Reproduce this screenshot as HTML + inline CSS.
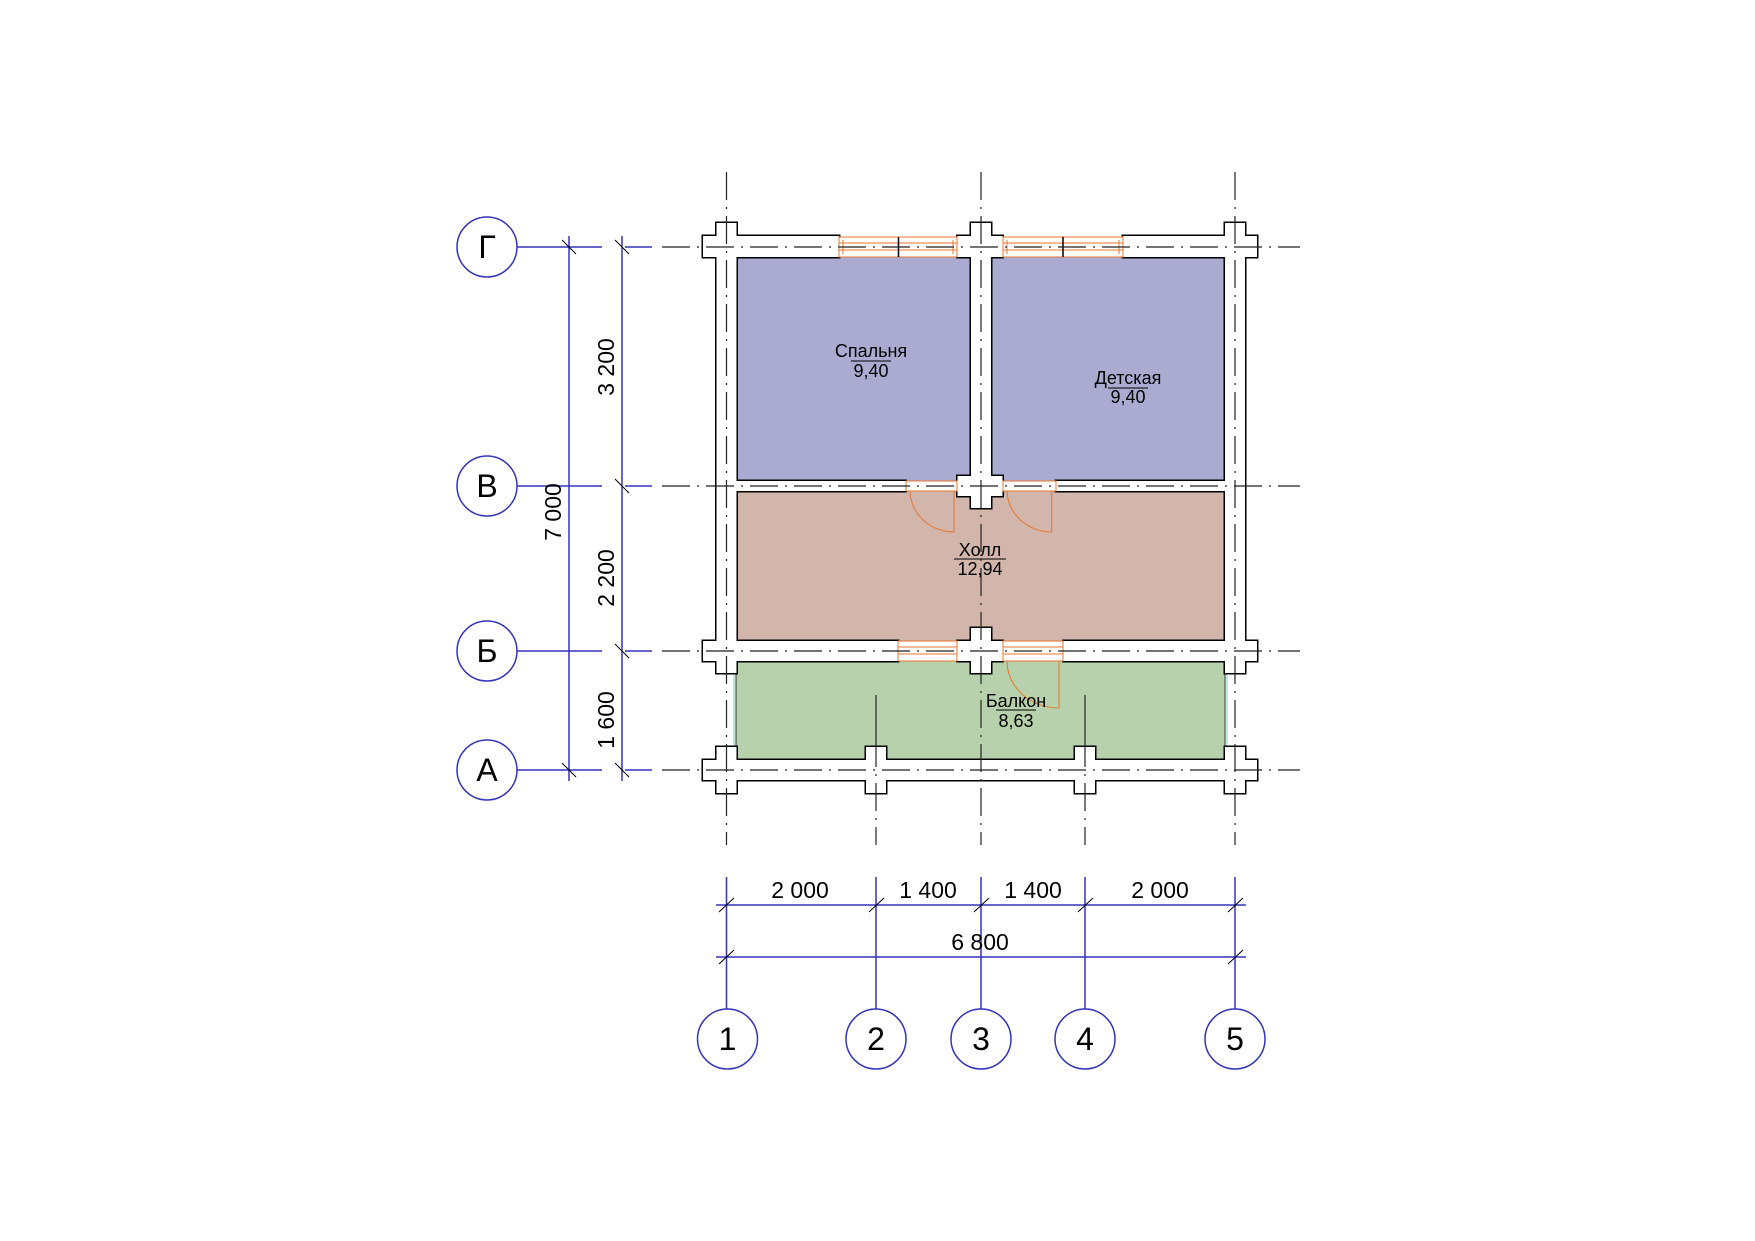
<!DOCTYPE html>
<html><head><meta charset="utf-8"><style>html,body{margin:0;padding:0;background:#fff}svg{display:block}</style></head>
<body>
<svg width="1755" height="1241" viewBox="0 0 1755 1241" xmlns="http://www.w3.org/2000/svg" font-family="Liberation Sans, sans-serif">
<rect width="1755" height="1241" fill="#fff"/>
<!-- rooms -->
<rect x="736" y="257" width="235" height="224" fill="#ABABD2" stroke="#333" stroke-width="1"/>
<rect x="991" y="257" width="234" height="224" fill="#ABABD2" stroke="#333" stroke-width="1"/>
<rect x="736" y="491" width="489" height="150" fill="#D2B5AB" stroke="#333" stroke-width="1"/>
<rect x="736" y="661" width="489" height="99" fill="#B6D1AB" stroke="#333" stroke-width="1"/>
<line x1="1227" y1="675" x2="1227" y2="747" stroke="#bfe8e0" stroke-width="2"/>
<line x1="734" y1="675" x2="734" y2="747" stroke="#bfe8e0" stroke-width="2"/>
<!-- walls: stroke pass -->
<g id="walls" stroke="#000" stroke-width="3" fill="#fff">
<rect x="716.5" y="223" width="20" height="450"/>
<rect x="1225" y="223" width="20" height="450"/>
<rect x="971" y="223" width="20" height="285"/>
<rect x="703" y="236" width="136" height="21"/>
<rect x="1123" y="236" width="134" height="21"/>
<rect x="957.5" y="236" width="45" height="21"/>
<rect x="716.5" y="481" width="189" height="10"/>
<rect x="1056" y="481" width="189" height="10"/>
<rect x="957.5" y="476" width="45" height="20"/>
<rect x="703" y="641" width="195" height="20"/>
<rect x="1063.5" y="641" width="193.5" height="20"/>
<rect x="957.5" y="641" width="45" height="20"/>
<rect x="971" y="628" width="20" height="45"/>
<rect x="703" y="760" width="554" height="20"/>
<rect x="716.5" y="747" width="20" height="46"/>
<rect x="866" y="747" width="20" height="46"/>
<rect x="1075" y="747" width="20" height="46"/>
<rect x="1225" y="747" width="20" height="46"/>
</g>
<g stroke="none" fill="#fff">
<rect x="716.5" y="223" width="20" height="450"/>
<rect x="1225" y="223" width="20" height="450"/>
<rect x="971" y="223" width="20" height="285"/>
<rect x="703" y="236" width="136" height="21"/>
<rect x="1123" y="236" width="134" height="21"/>
<rect x="957.5" y="236" width="45" height="21"/>
<rect x="716.5" y="481" width="189" height="10"/>
<rect x="1056" y="481" width="189" height="10"/>
<rect x="957.5" y="476" width="45" height="20"/>
<rect x="703" y="641" width="195" height="20"/>
<rect x="1063.5" y="641" width="193.5" height="20"/>
<rect x="957.5" y="641" width="45" height="20"/>
<rect x="971" y="628" width="20" height="45"/>
<rect x="703" y="760" width="554" height="20"/>
<rect x="716.5" y="747" width="20" height="46"/>
<rect x="866" y="747" width="20" height="46"/>
<rect x="1075" y="747" width="20" height="46"/>
<rect x="1225" y="747" width="20" height="46"/>
</g>
<!-- windows -->
<g stroke="#E8772E" stroke-width="1" fill="#fff">
<rect x="839" y="237" width="118" height="20"/>
<rect x="1003" y="237" width="120" height="20"/>
<rect x="898" y="641" width="59" height="20"/>
<rect x="1003" y="641" width="60" height="20"/>
<rect x="906" y="481" width="51" height="10"/>
<rect x="1003" y="481" width="53" height="10"/>
</g>
<g stroke="#E8772E" stroke-width="1" fill="none">
<path d="M839 243H957M839 250H957M1003 243H1123M1003 250H1123M898 647H957M898 654H957M1003 647H1063M1003 654H1063"/>
<path d="M843 240V254M953 240V254M1007 240V254M1119 240V254"/>
<path d="M954 491V532M954 532A44 42 0 0 1 910 491"/>
<path d="M1051.7 491V532M1051.7 532A45 42 0 0 1 1007 491"/>
<path d="M1059 661V708M1059 708A52 47 0 0 1 1007 661"/>
</g>
<line x1="898.5" y1="237" x2="898.5" y2="257" stroke="#000" stroke-width="1.5"/>
<line x1="1063" y1="237" x2="1063" y2="257" stroke="#000" stroke-width="1.5"/>
<!-- balcony posts lines -->
<line x1="876" y1="695" x2="876" y2="747" stroke="#000" stroke-width="1"/>
<line x1="1085" y1="695" x2="1085" y2="747" stroke="#000" stroke-width="1"/>
<!-- axis lines -->
<g stroke="#222" stroke-width="1.2" fill="none" stroke-dasharray="28 7 2 7">
<line x1="662" y1="247" x2="1300" y2="247"/>
<line x1="662" y1="486" x2="1300" y2="486"/>
<line x1="662" y1="651" x2="1300" y2="651"/>
<line x1="662" y1="770" x2="1300" y2="770"/>
<line x1="726.5" y1="172" x2="726.5" y2="845"/>
<line x1="876" y1="695" x2="876" y2="845"/>
<line x1="981" y1="172" x2="981" y2="845"/>
<line x1="1085" y1="695" x2="1085" y2="845"/>
<line x1="1235" y1="172" x2="1235" y2="845"/>
</g>
<!-- left axis markers -->
<g stroke="#3333BB" stroke-width="1.5" fill="#fff">
<circle cx="487" cy="247" r="30"/>
<circle cx="487" cy="486" r="30"/>
<circle cx="487" cy="651" r="30"/>
<circle cx="487" cy="770" r="30"/>
<circle cx="727.5" cy="1039" r="30"/>
<circle cx="876" cy="1039" r="30"/>
<circle cx="981" cy="1039" r="30"/>
<circle cx="1085" cy="1039" r="30"/>
<circle cx="1235" cy="1039" r="30"/>
</g>
<g stroke="#3333BB" stroke-width="1.5">
<path d="M517 247H602M517 486H602M517 651H602M517 770H602"/>
<path d="M625 247H652M625 486H652M625 651H652M625 770H652"/>
<path d="M569 236V781M622 236V781"/>
<path d="M716 905H1246M716 957H1246"/>
<path d="M726.5 877V1009M876 877V1009M981 877V1009M1085 877V1009M1235 877V1009"/>
</g>
<g stroke="#000" stroke-width="1">
<path d="M562 240L576 254M562 763L576 777M615 240L629 254M615 479L629 493M615 644L629 658M615 763L629 777"/>
<path d="M719 912L734 898M869 912L884 898M974 912L989 898M1078 912L1093 898M1228 912L1243 898M719 964L734 950M1228 964L1243 950"/>
</g>
<!-- labels -->
<g font-size="32" text-anchor="middle" fill="#000">
<text x="487" y="258">Г</text>
<text x="487" y="497">В</text>
<text x="487" y="662">Б</text>
<text x="487" y="781">А</text>
<text x="727.5" y="1050">1</text>
<text x="876" y="1050">2</text>
<text x="981" y="1050">3</text>
<text x="1085" y="1050">4</text>
<text x="1235" y="1050">5</text>
</g>
<g font-size="23" text-anchor="middle" fill="#000">
<text x="800" y="898">2 000</text>
<text x="928" y="898">1 400</text>
<text x="1033" y="898">1 400</text>
<text x="1160" y="898">2 000</text>
<text x="980" y="950">6 800</text>
<text transform="translate(561,512) rotate(-90)">7 000</text>
<text transform="translate(614,367) rotate(-90)">3 200</text>
<text transform="translate(614,578) rotate(-90)">2 200</text>
<text transform="translate(614,720) rotate(-90)">1 600</text>
</g>
<g font-size="18" text-anchor="middle" fill="#000">
<text x="871" y="357">Спальня</text><text x="871" y="377">9,40</text>
<text x="1128" y="384">Детская</text><text x="1128" y="403">9,40</text>
<text x="980" y="556">Холл</text><text x="980" y="575">12,94</text>
<text x="1016" y="707">Балкон</text><text x="1016" y="727">8,63</text>
</g>
<g stroke="#000" stroke-width="1">
<path d="M851 361H891M1108 388H1148M954 559H1006M996 710H1036"/>
</g>
</svg>
</body></html>
